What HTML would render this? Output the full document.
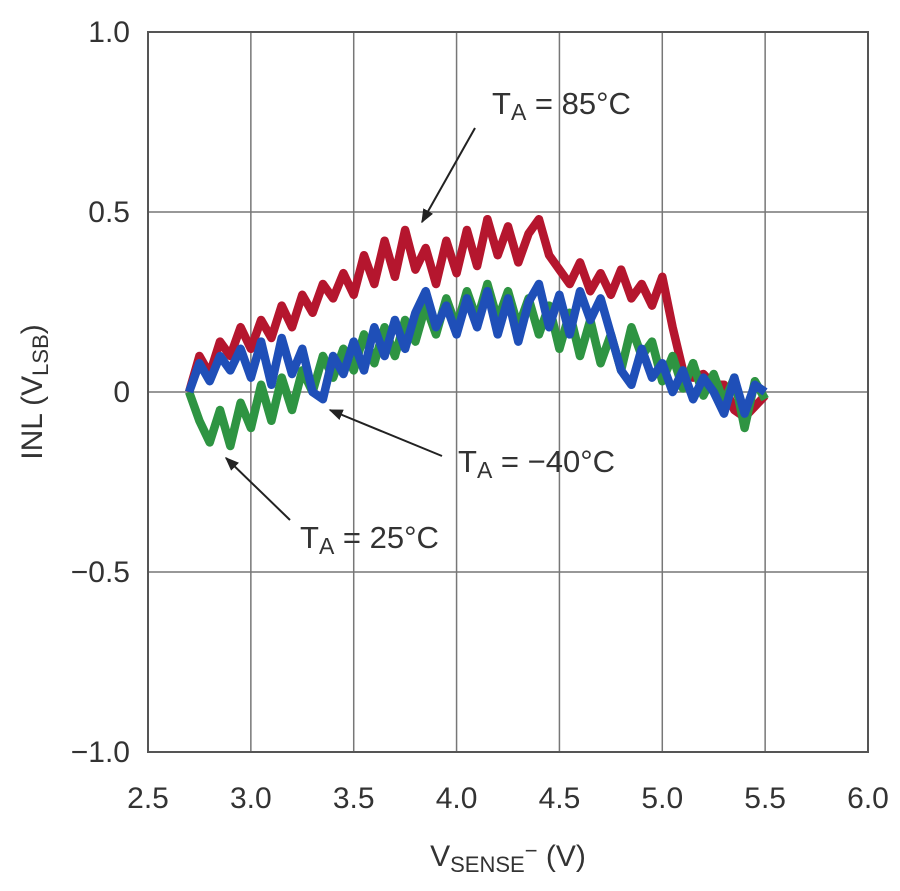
<!DOCTYPE html>
<html><head><meta charset="utf-8"><style>
html,body{margin:0;padding:0;background:#fff;}
svg text{font-family:"Liberation Sans",sans-serif;fill:#333;}
</style></head><body>
<svg id="chart" width="900" height="886" viewBox="0 0 900 886" xmlns="http://www.w3.org/2000/svg">
<defs><marker id="ah" viewBox="0 0 10 10" refX="9" refY="5" markerWidth="7" markerHeight="7" orient="auto"><path d="M0,1 L10,5 L0,9 z" fill="#222"/></marker></defs>
<g id="grid"></g>
<g id="series"></g>
<rect x="148" y="32" width="720" height="720" fill="none" stroke="#555" stroke-width="2"/>
<g id="ticks"></g>
<text x="508" y="866" font-size="30" text-anchor="middle">V<tspan font-size="22" dy="6">SENSE</tspan><tspan font-size="22" dy="-14">−</tspan><tspan dy="8"> (V)</tspan></text>
<text transform="translate(42,392) rotate(-90)" font-size="30" text-anchor="middle">INL (V<tspan font-size="22" dy="6">LSB</tspan><tspan dy="-6">)</tspan></text>
<g>
<text x="492" y="114" font-size="31">T<tspan font-size="23" dy="6">A</tspan><tspan dy="-6"> = 85°C</tspan></text>
<line x1="475" y1="128" x2="422" y2="222" stroke="#222" stroke-width="2" marker-end="url(#ah)"/></g>
<g>
<text x="458" y="472" font-size="31">T<tspan font-size="23" dy="6">A</tspan><tspan dy="-6"> = −40°C</tspan></text>
<line x1="442" y1="456" x2="330" y2="410" stroke="#222" stroke-width="2" marker-end="url(#ah)"/></g>
<g>
<text x="300" y="548" font-size="31">T<tspan font-size="23" dy="6">A</tspan><tspan dy="-6"> = 25°C</tspan></text>
<line x1="290" y1="520" x2="226" y2="458" stroke="#222" stroke-width="2" marker-end="url(#ah)"/></g>
</svg>
<script>
const xTicks=[2.5,3.0,3.5,4.0,4.5,5.0,5.5,6.0];
const xTickLabels=["2.5","3.0","3.5","4.0","4.5","5.0","5.5","6.0"];
const yTicks=[1.0,0.5,0,-0.5,-1.0];
const yTickLabels=["1.0","0.5","0","-0.5","-1.0"];
const vsense=[2.70,2.75,2.80,2.85,2.90,2.95,3.00,3.05,3.10,3.15,3.20,3.25,3.30,3.35,3.40,3.45,3.50,3.55,3.60,3.65,3.70,3.75,3.80,3.85,3.90,3.95,4.00,4.05,4.10,4.15,4.20,4.25,4.30,4.35,4.40,4.45,4.50,4.55,4.60,4.65,4.70,4.75,4.80,4.85,4.90,4.95,5.00,5.05,5.10,5.15,5.20,5.25,5.30,5.35,5.40,5.45,5.50];
const inl85=[0.00,0.10,0.05,0.14,0.10,0.18,0.12,0.20,0.15,0.24,0.18,0.27,0.22,0.30,0.26,0.33,0.27,0.38,0.30,0.42,0.32,0.45,0.34,0.40,0.30,0.42,0.33,0.45,0.35,0.48,0.38,0.46,0.36,0.44,0.48,0.38,0.34,0.30,0.36,0.28,0.33,0.27,0.34,0.26,0.30,0.24,0.32,0.18,0.06,0.04,0.05,0.02,0.02,-0.05,-0.07,-0.04,-0.01];
const inl25=[0.00,-0.08,-0.14,-0.05,-0.15,-0.03,-0.10,0.02,-0.08,0.04,-0.05,0.06,0.00,0.10,0.04,0.12,0.06,0.16,0.08,0.18,0.10,0.20,0.14,0.24,0.16,0.26,0.18,0.28,0.20,0.30,0.20,0.28,0.18,0.26,0.16,0.24,0.12,0.22,0.10,0.20,0.08,0.16,0.06,0.18,0.10,0.14,0.03,0.10,0.01,0.08,-0.01,0.05,-0.03,0.04,-0.10,0.03,-0.02];
const inlM40=[0.00,0.08,0.03,0.10,0.06,0.12,0.04,0.14,0.02,0.15,0.05,0.12,0.00,-0.02,0.10,0.05,0.14,0.06,0.18,0.10,0.20,0.12,0.22,0.28,0.18,0.24,0.16,0.26,0.18,0.28,0.16,0.26,0.14,0.25,0.30,0.18,0.27,0.16,0.28,0.20,0.26,0.16,0.06,0.02,0.12,0.04,0.08,0.00,0.06,-0.02,0.04,0.00,-0.06,0.04,-0.06,0.02,0.00];
const NS="http://www.w3.org/2000/svg";
const X=v=>148+(v-2.5)/3.5*720;
const Y=v=>392-v*360;
const grid=document.getElementById('grid'),ticks=document.getElementById('ticks'),ser=document.getElementById('series');
xTicks.forEach((t,i)=>{
 const l=document.createElementNS(NS,'line');
 
 
 l.setAttribute('x1',X(t));l.setAttribute('x2',X(t));l.setAttribute('y1',32);l.setAttribute('y2',752);
 l.setAttribute('stroke','#777');l.setAttribute('stroke-width','1.5');grid.appendChild(l);
 const tx=document.createElementNS(NS,'text');
 
 
 tx.setAttribute('x',X(t));tx.setAttribute('y',808);tx.setAttribute('font-size','30');tx.setAttribute('text-anchor','middle');
 tx.textContent=xTickLabels[i];ticks.appendChild(tx);
});
yTicks.forEach((t,i)=>{
 const l=document.createElementNS(NS,'line');
 
 
 l.setAttribute('x1',148);l.setAttribute('x2',868);l.setAttribute('y1',Y(t));l.setAttribute('y2',Y(t));
 l.setAttribute('stroke','#777');l.setAttribute('stroke-width','1.5');grid.appendChild(l);
 const tx=document.createElementNS(NS,'text');
 
 
 tx.setAttribute('x',130);tx.setAttribute('y',Y(t)+10);tx.setAttribute('font-size','30');tx.setAttribute('text-anchor','end');
 tx.textContent=yTickLabels[i].replace('-','−');ticks.appendChild(tx);
});
function draw(vals,color,name){
 const p=document.createElementNS(NS,'polyline');
 
 
 p.setAttribute('points',vals.map((v,i)=>X(vsense[i]).toFixed(1)+','+Y(v).toFixed(1)).join(' '));
 p.setAttribute('fill','none');p.setAttribute('stroke',color);p.setAttribute('stroke-width','8.5');p.setAttribute('stroke-linejoin','round');
 ser.appendChild(p);
}
draw(inl85,'#b5162e','series-85c');
draw(inl25,'#2e9442','series-25c');
draw(inlM40,'#1f4fb8','series-minus40c');
</script>
</body></html>
